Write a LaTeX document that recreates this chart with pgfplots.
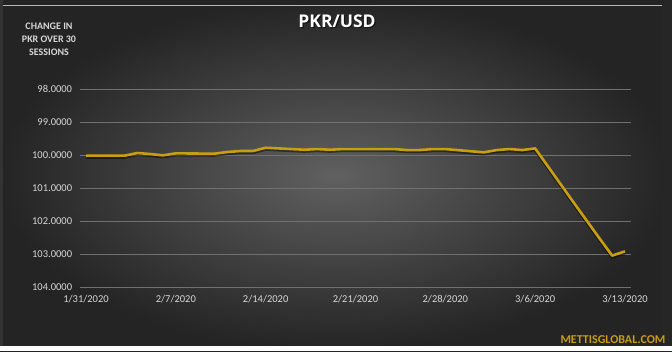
\documentclass[border=0pt]{standalone}
\usepackage{pgfplots}
\pgfplotsset{compat=1.18}
\usepackage{fontspec}
\setmainfont{Carlito}
\newfontfamily\titlefont{Open Sans}
\definecolor{gold}{RGB}{200,158,18}
\definecolor{bginner}{RGB}{96,96,96}
\definecolor{bgouter}{RGB}{36,36,36}
\definecolor{lbl}{RGB}{215,215,215}
\definecolor{gridc}{RGB}{112,112,112}
\begin{document}
\begin{tikzpicture}
\shade[inner color=bginner, outer color=bgouter] (0,0) rectangle (672pt,351pt);
\fill[black!85] (662pt,5pt) rectangle (672pt,351pt);
\fill[black!80] (0pt,5pt) rectangle (3pt,351pt);
\draw[gray!55, line width=1.5pt] (3pt,345.5pt) -- (662pt,345.5pt);
\fill[white] (0,0) rectangle (672pt,5pt);
\begin{axis}[
  at={(79.6pt,64pt)}, anchor=south west,
  scale only axis, width=551.8pt, height=198pt,
  xmin=-0.5, xmax=42.5, ymin=98, ymax=104, y dir=reverse,
  axis line style={draw=none}, tick style={draw=none},
  ymajorgrids, grid style={gridc, line width=0.7pt},
  xtick={0,7,14,21,28,35,42},
  xticklabels={1/31/2020,2/7/2020,2/14/2020,2/21/2020,2/28/2020,3/6/2020,3/13/2020},
  xticklabel pos=lower,
  ytick={98,99,100,101,102,103,104},
  yticklabel style={/pgf/number format/.cd, fixed, fixed zerofill, precision=4, assume math mode=true, /tikz/.cd, font=\fontsize{10.5}{12}\selectfont, text=lbl, xshift=-4pt},
  xticklabel style={font=\fontsize{10.5}{12}\selectfont, text=lbl, yshift=-5pt},
  clip=false,
]
\addplot[black, opacity=0.45, line width=3pt, yshift=-1.6pt, line join=round] coordinates {
(0,100.02) (3,100.02) (4,99.94) (5,99.97) (6,100.01) (7,99.95)
(10,99.96) (11,99.91) (12,99.88) (13,99.88) (14,99.78)
(17,99.84) (18,99.82) (19,99.84) (20,99.82) (21,99.82)
(24,99.82) (25,99.85) (26,99.85) (27,99.82) (28,99.82)
(31,99.92) (32,99.85) (33,99.82) (34,99.85) (35,99.80)
(38,101.44) (39,101.98) (40,102.52) (41,103.05) (42,102.92)
};
\addplot[gold, line width=2.6pt, line join=round] coordinates {
(0,100.02) (3,100.02) (4,99.94) (5,99.97) (6,100.01) (7,99.95)
(10,99.96) (11,99.91) (12,99.88) (13,99.88) (14,99.78)
(17,99.84) (18,99.82) (19,99.84) (20,99.82) (21,99.82)
(24,99.82) (25,99.85) (26,99.85) (27,99.82) (28,99.82)
(31,99.92) (32,99.85) (33,99.82) (34,99.85) (35,99.80)
(38,101.44) (39,101.98) (40,102.52) (41,103.05) (42,102.92)
};
\end{axis}
\node[text=black, opacity=0.6, font=\titlefont\bfseries\fontsize{17.5}{20}\selectfont] at (338.2pt,329pt) {PKR/USD};
\node[text=white, font=\titlefont\bfseries\fontsize{17.5}{20}\selectfont] at (337pt,330pt) {PKR/USD};
\node[align=center, text=lbl, font=\bfseries\fontsize{10}{13}\selectfont] at (49pt,312pt) {CHANGE IN\\PKR OVER 30\\SESSIONS};
\node[anchor=east, text=gold, font=\bfseries\fontsize{12}{14}\selectfont] at (669pt,11pt) {METTISGLOBAL.COM};
\end{tikzpicture}
\end{document}
